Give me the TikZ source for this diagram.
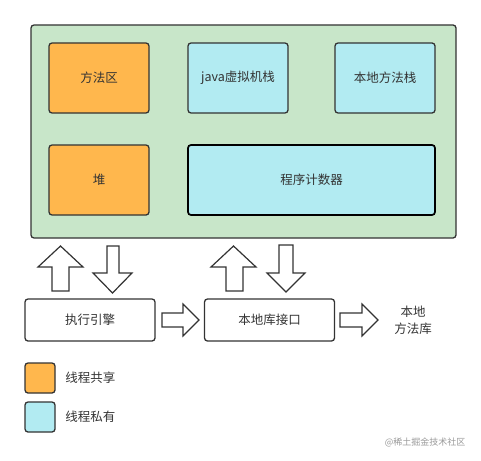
\documentclass[tikz,border=0pt]{standalone}
\usepackage{fontspec}
\setmainfont{Noto Sans CJK SC}
\usepackage{tikz}
\usetikzlibrary{arrows.meta,positioning}
\definecolor{jvmgreen}{HTML}{C8E6C9}
\definecolor{shared}{HTML}{FFB74D}
\definecolor{private}{HTML}{B2EBF2}
\definecolor{edge}{HTML}{333333}
\tikzset{
  jvm-area/.style={draw=edge, fill=jvmgreen, rounded corners=3pt, line width=1.3pt},
  mem-box/.style={draw=edge, rounded corners=3pt, line width=1.3pt, text=edge,
    font=\fontsize{12.5}{14}\selectfont, inner sep=0pt},
  shared-box/.style={mem-box, fill=shared},
  private-box/.style={mem-box, fill=private},
  exec-box/.style={mem-box, fill=white, minimum width=130pt, minimum height=42pt},
  flow-arrow/.style={draw=edge, fill=white, line width=1.2pt, line join=miter}
}
\begin{document}
\begin{tikzpicture}[x=1pt, y=-1pt]
  \useasboundingbox (0,0) rectangle (481,460);
  % runtime data area
  \node[jvm-area, minimum width=425pt, minimum height=213pt] (jvm) at (243.5,131.5) {};
  \node[shared-box, minimum width=100pt, minimum height=70pt] (method) at (99,78) {方法区};
  \node[private-box, minimum width=100pt, minimum height=70pt] (jstack) at (238,78) {java虚拟机栈};
  \node[private-box, minimum width=100pt, minimum height=70pt] (nstack) at (385,78) {本地方法栈};
  \node[shared-box, minimum width=100pt, minimum height=70pt] (heap) at (99,180) {堆};
  \node[private-box, draw=black, line width=1.7pt, minimum width=247pt, minimum height=70pt] (pc) at (311.5,180) {程序计数器};
  % execution side
  \node[exec-box] (engine) at (90,320) {执行引擎};
  \node[exec-box] (native) at (269.5,320) {本地库接口};
  \node[mem-box, draw=none, align=center, font=\fontsize{12.5}{17}\selectfont] (nlib) at (413,320.5) {本地\\方法库};
  % block arrows
  \draw[flow-arrow] (52,291) -- (52,267) -- (38,267) -- (60.5,246) -- (83,267) -- (69,267) -- (69,291) -- cycle;
  \draw[flow-arrow] (107,246) -- (119,246) -- (119,273) -- (132,273) -- (112.5,293) -- (93,273) -- (107,273) -- cycle;
  \draw[flow-arrow] (226,291) -- (226,267) -- (211,267) -- (233.5,246) -- (256,267) -- (243,267) -- (243,291) -- cycle;
  \draw[flow-arrow] (279,245) -- (293,245) -- (293,273) -- (305,273) -- (286,292) -- (267,273) -- (279,273) -- cycle;
  \draw[flow-arrow] (162,313) -- (183,313) -- (183,304) -- (199,320) -- (183,336) -- (183,327) -- (162,327) -- cycle;
  \draw[flow-arrow] (340,313) -- (362,313) -- (362,304) -- (378,320) -- (362,336) -- (362,327) -- (340,327) -- cycle;
  % legend
  \node[shared-box, minimum size=30pt] (key1) at (40,378) {};
  \node[mem-box, draw=none, anchor=west, right=9pt of key1] {线程共享};
  \node[private-box, minimum size=30pt] (key2) at (40,417) {};
  \node[mem-box, draw=none, anchor=west, right=9pt of key2] {线程私有};
  \node[font=\fontsize{9}{10}\selectfont, text=black!40, anchor=east] (mark) at (469,442) {@稀土掘金技术社区};
\end{tikzpicture}
\end{document}
